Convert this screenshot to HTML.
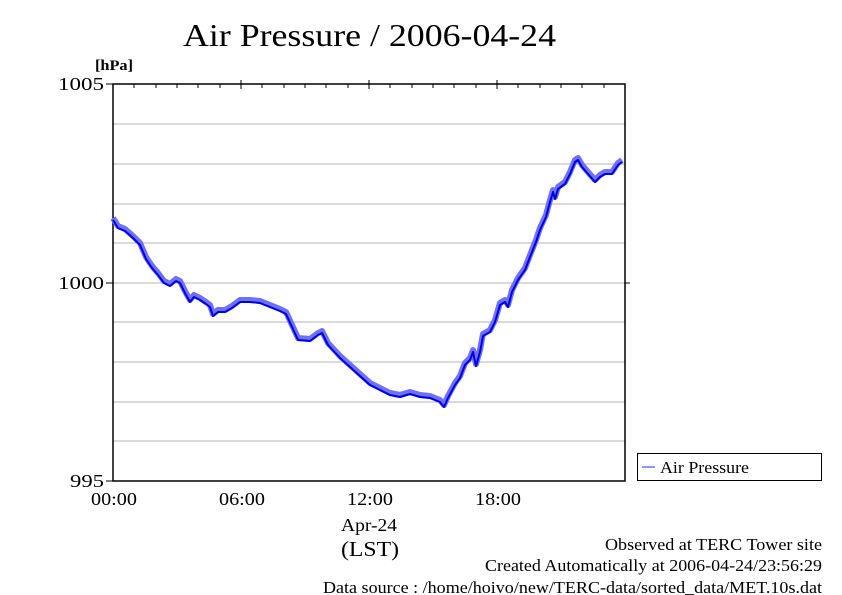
<!DOCTYPE html>
<html><head><meta charset="utf-8"><style>
html,body{margin:0;padding:0;background:#fff;}
svg{display:block;}
text{font-family:"Liberation Serif",serif;fill:#000;}
</style></head><body>
<svg width="842" height="595" viewBox="0 0 842 595" xmlns="http://www.w3.org/2000/svg">
<rect width="842" height="595" fill="#fff"/>
<text x="183" y="46" font-size="32" textLength="373" lengthAdjust="spacingAndGlyphs">Air Pressure / 2006-04-24</text>
<text x="95" y="70" font-size="15" font-weight="bold" textLength="38" lengthAdjust="spacingAndGlyphs">[hPa]</text>
<g stroke="#b4b4b4" stroke-width="1">
<line x1="113" y1="124" x2="625" y2="124"/><line x1="113" y1="164" x2="625" y2="164"/>
<line x1="113" y1="204" x2="625" y2="204"/><line x1="113" y1="243" x2="625" y2="243"/>
<line x1="113" y1="283" x2="625" y2="283"/><line x1="113" y1="322" x2="625" y2="322"/>
<line x1="113" y1="362" x2="625" y2="362"/><line x1="113" y1="402" x2="625" y2="402"/>
<line x1="113" y1="441" x2="625" y2="441"/>
</g>
<g stroke="#000" stroke-width="1.5" fill="none">
<rect x="113" y="84" width="512" height="397"/>
</g>
<g stroke="#000" stroke-width="1">
<line x1="106" y1="84" x2="113" y2="84"/><line x1="106" y1="283" x2="113" y2="283"/><line x1="106" y1="481" x2="113" y2="481"/>
<line x1="625" y1="283" x2="630" y2="283"/>
<line x1="134" y1="84" x2="134" y2="88"/><line x1="156" y1="84" x2="156" y2="88"/><line x1="177" y1="84" x2="177" y2="88"/><line x1="198" y1="84" x2="198" y2="88"/><line x1="220" y1="84" x2="220" y2="88"/><line x1="241" y1="80" x2="241" y2="89"/><line x1="262" y1="84" x2="262" y2="88"/><line x1="284" y1="84" x2="284" y2="88"/><line x1="305" y1="84" x2="305" y2="88"/><line x1="326" y1="84" x2="326" y2="88"/><line x1="348" y1="84" x2="348" y2="88"/><line x1="369" y1="80" x2="369" y2="89"/><line x1="390" y1="84" x2="390" y2="88"/><line x1="412" y1="84" x2="412" y2="88"/><line x1="433" y1="84" x2="433" y2="88"/><line x1="454" y1="84" x2="454" y2="88"/><line x1="476" y1="84" x2="476" y2="88"/><line x1="497" y1="80" x2="497" y2="89"/><line x1="518" y1="84" x2="518" y2="88"/><line x1="540" y1="84" x2="540" y2="88"/><line x1="561" y1="84" x2="561" y2="88"/><line x1="582" y1="84" x2="582" y2="88"/><line x1="604" y1="84" x2="604" y2="88"/>
</g>
<g font-size="18">
<text x="58" y="90" textLength="46" lengthAdjust="spacingAndGlyphs">1005</text>
<text x="58" y="289" textLength="46" lengthAdjust="spacingAndGlyphs">1000</text>
<text x="70" y="487" textLength="34" lengthAdjust="spacingAndGlyphs">995</text>
<text x="91" y="505" textLength="46" lengthAdjust="spacingAndGlyphs">00:00</text>
<text x="219" y="505" textLength="46" lengthAdjust="spacingAndGlyphs">06:00</text>
<text x="347" y="505" textLength="46" lengthAdjust="spacingAndGlyphs">12:00</text>
<text x="475" y="505" textLength="46" lengthAdjust="spacingAndGlyphs">18:00</text>
<text x="341" y="531" textLength="56" lengthAdjust="spacingAndGlyphs">Apr-24</text>
<text x="341" y="556" font-size="21" textLength="58" lengthAdjust="spacingAndGlyphs">(LST)</text>
</g>
<polyline fill="none" stroke="#6f6fff" stroke-width="6" stroke-linejoin="round" points="113,218 118,226 125,229 133,236 140,243 146,257 152,266 158,273 164,281 170,284 176,279 180,281 186,293 190,300 194,295 200,298 206,302 210,305 213,314 218,310 225,310 232,306 240,300 250,300 260,301 270,305 280,309 286,312 292,325 298,338 310,339 318,333 322,331 328,343 340,356 350,365 360,374 370,383 380,388 390,393 400,395 410,392 420,395 430,396 440,400 444,405 448,396 455,383 460,376 465,363 470,358 473,350 476,364 480,350 483,334 490,330 495,320 500,303 505,300 508,305 512,290 518,278 525,268 530,255 536,240 540,228 546,215 550,200 553,190 555,197 558,187 565,182 570,172 575,160 578,158 582,165 588,172 595,180 600,175 605,172 612,172 618,163 622,160"/>
<polyline fill="none" stroke="#0000dd" stroke-width="2" stroke-linejoin="round" transform="translate(0,2)" points="113,218 118,226 125,229 133,236 140,243 146,257 152,266 158,273 164,281 170,284 176,279 180,281 186,293 190,300 194,295 200,298 206,302 210,305 213,314 218,310 225,310 232,306 240,300 250,300 260,301 270,305 280,309 286,312 292,325 298,338 310,339 318,333 322,331 328,343 340,356 350,365 360,374 370,383 380,388 390,393 400,395 410,392 420,395 430,396 440,400 444,405 448,396 455,383 460,376 465,363 470,358 473,350 476,364 480,350 483,334 490,330 495,320 500,303 505,300 508,305 512,290 518,278 525,268 530,255 536,240 540,228 546,215 550,200 553,190 555,197 558,187 565,182 570,172 575,160 578,158 582,165 588,172 595,180 600,175 605,172 612,172 618,163 622,160"/>
<rect x="637.5" y="453.5" width="184" height="27" fill="#fff" stroke="#000" stroke-width="1"/>
<line x1="642" y1="467" x2="655" y2="467" stroke="#6f6fff" stroke-width="1.5"/>
<text x="660" y="473" font-size="17" textLength="89" lengthAdjust="spacingAndGlyphs">Air Pressure</text>
<g font-size="17">
<text x="605" y="550" textLength="217" lengthAdjust="spacingAndGlyphs">Observed at TERC Tower site</text>
<text x="485" y="571" textLength="337" lengthAdjust="spacingAndGlyphs">Created Automatically at 2006-04-24/23:56:29</text>
<text x="323" y="593" textLength="499" lengthAdjust="spacingAndGlyphs">Data source : /home/hoivo/new/TERC-data/sorted_data/MET.10s.dat</text>
</g>
</svg>
</body></html>
